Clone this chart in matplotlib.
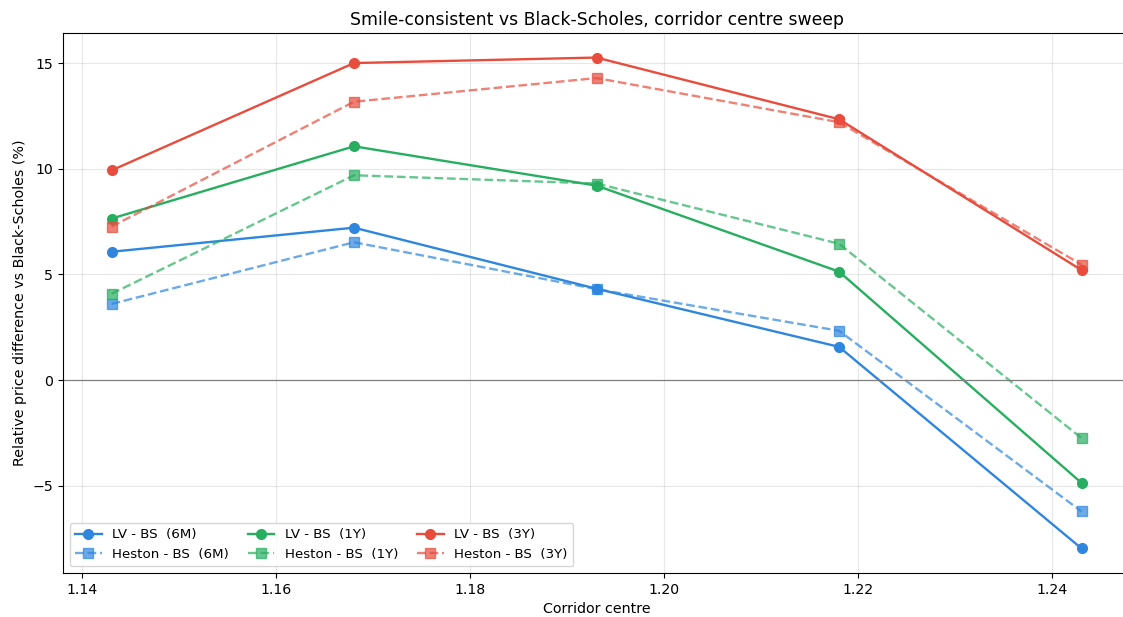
import matplotlib
matplotlib.use("Agg")
import matplotlib.pyplot as plt

# corridor centres
centres = [1.143, 1.168, 1.193, 1.218, 1.243]

# relative price difference vs BS (%)
lv_6m = [6.07, 7.21, 4.32, 1.57, -7.97]
heston_6m = [3.60, 6.52, 4.30, 2.33, -6.22]
lv_1y = [7.64, 11.06, 9.20, 5.13, -4.87]
heston_1y = [4.08, 9.69, 9.30, 6.45, -2.75]
lv_3y = [9.92, 15.00, 15.26, 12.34, 5.20]
heston_3y = [7.26, 13.17, 14.29, 12.20, 5.46]

tenors = ["6M", "1Y", "3Y"]
colors = ["#2E86DE", "#27AE60", "#E74C3C"]
lv_all = [lv_6m, lv_1y, lv_3y]
heston_all = [heston_6m, heston_1y, heston_3y]

fig = plt.figure(figsize=(11.23, 6.17), dpi=100)
# right spine falls just outside the saved image
ax = fig.add_axes([0.0561, 0.0713, 0.9502, 0.8752])

for tenor, c, lv, hs in zip(tenors, colors, lv_all, heston_all):
    ax.plot(centres, lv, color=c, marker="o", lw=1.7, ms=7,
            label="LV - BS  (%s)" % tenor)
    ax.plot(centres, hs, color=c, marker="s", ls="--", lw=1.7, ms=6.5,
            alpha=0.7, label="Heston - BS  (%s)" % tenor)

ax.axhline(0, color="gray", lw=0.9)
ax.grid(True, alpha=0.3)
ax.tick_params(labelsize=10.2)
ax.set_xlabel("Corridor centre", fontsize=10.3)
ax.set_ylabel("Relative price difference vs Black-Scholes (%)", fontsize=10.3)
ax.set_title("Smile-consistent vs Black-Scholes, corridor centre sweep", fontsize=12.4)
ax.legend(loc="lower left", ncol=3, fontsize=9.6, columnspacing=1.4)

fig.savefig("out.png", dpi=100)
